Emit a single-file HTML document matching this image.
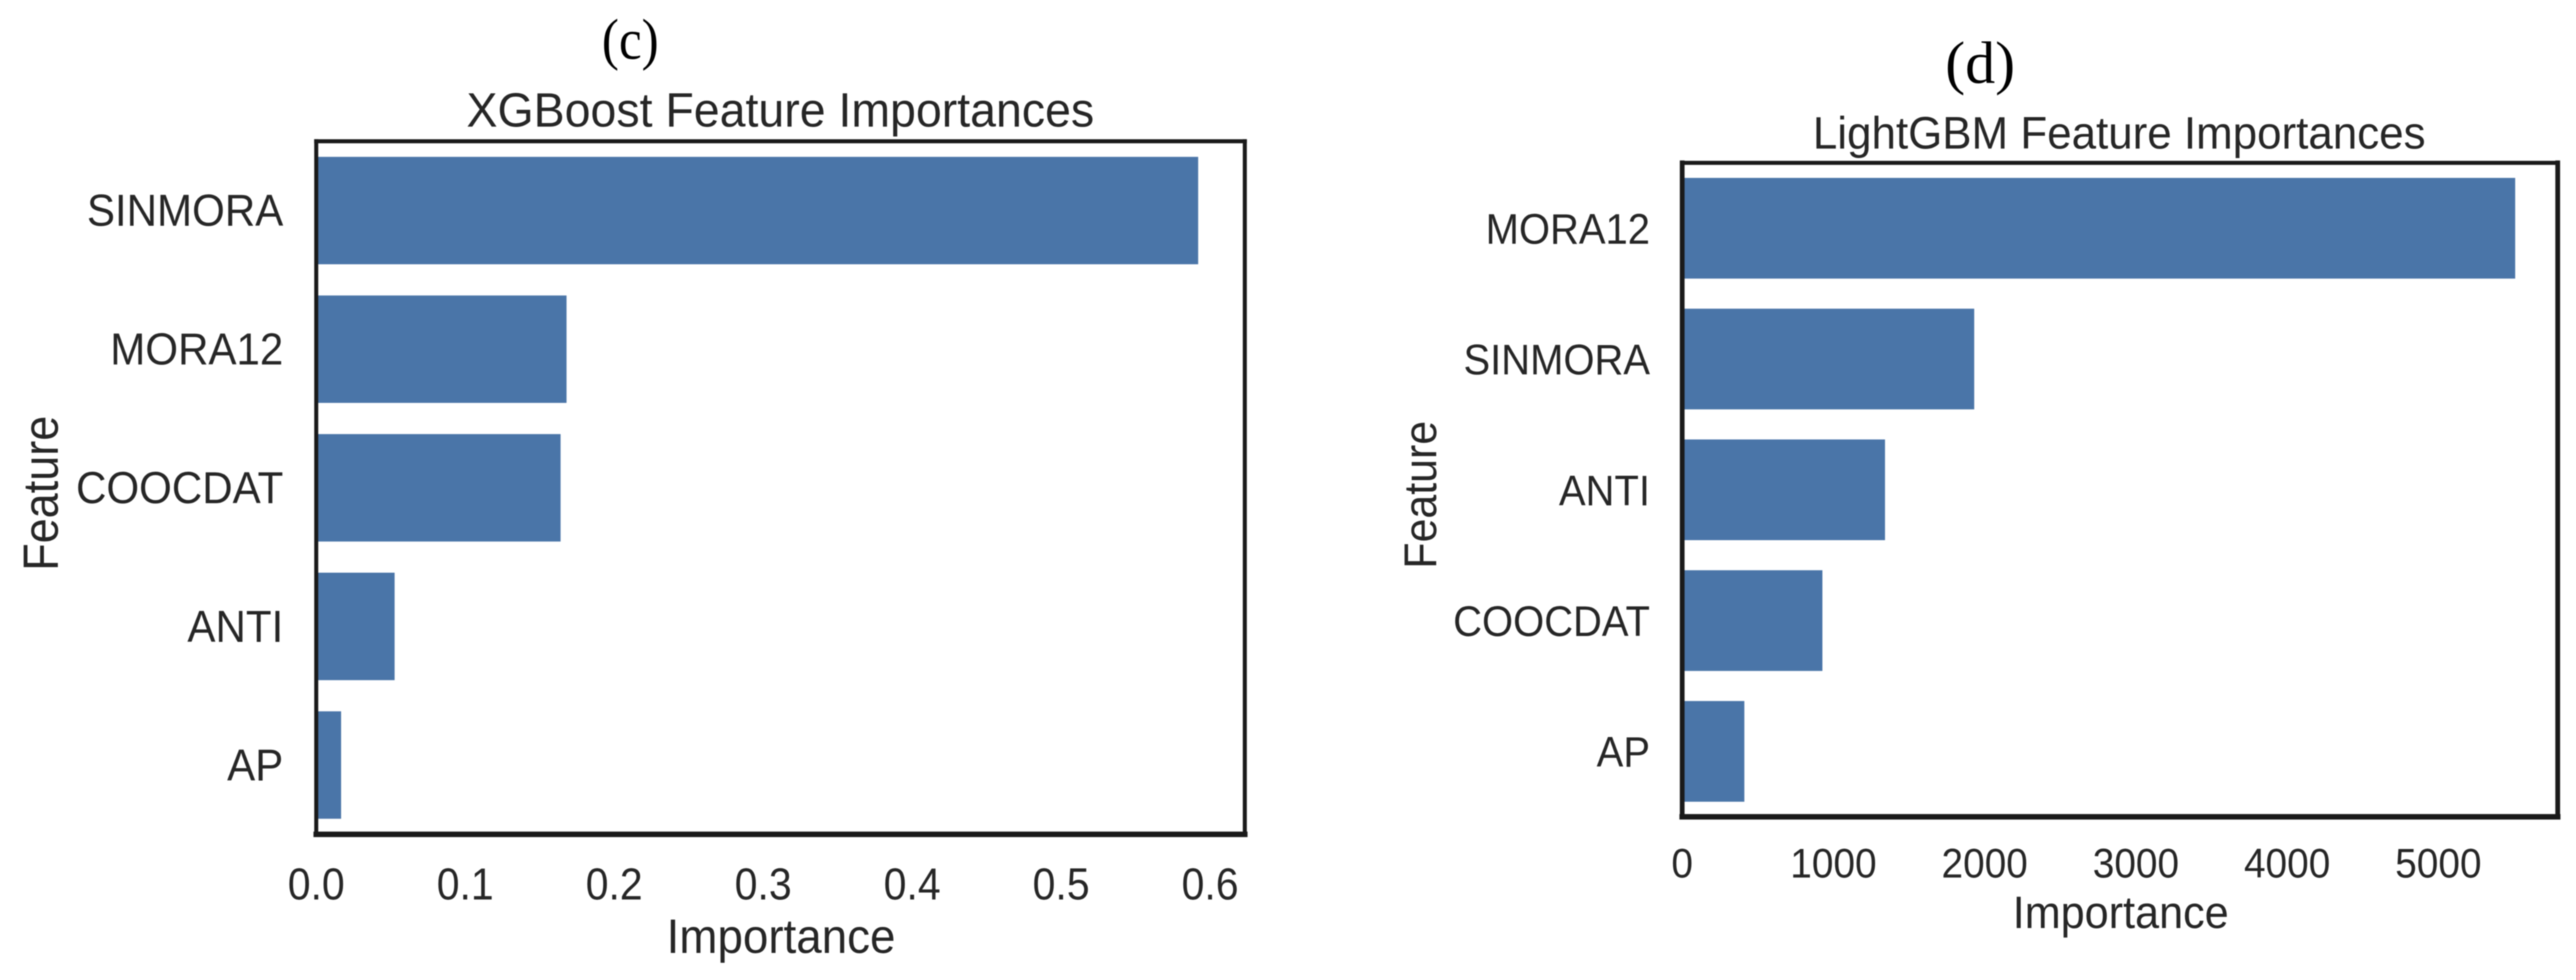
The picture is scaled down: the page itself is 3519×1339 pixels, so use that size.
<!DOCTYPE html>
<html lang="en">
<head>
<meta charset="utf-8">
<title>XGBoost and LightGBM Feature Importances</title>
<style>
  html, body { margin: 0; padding: 0; background: #ffffff; }
  #figure { display: block; width: 3519px; height: 1339px; filter: blur(0.9px); }
  text { font-family: "Liberation Sans", Arial, sans-serif; fill: #262626; }
  text.serif { font-family: "Liberation Serif", "Times New Roman", serif; fill: #000000; }
</style>
</head>
<body>
<svg id="figure" xmlns="http://www.w3.org/2000/svg" width="3519" height="1339" viewBox="0 0 3519 1339">
  <rect x="0" y="0" width="3519" height="1339" fill="#ffffff"></rect>
  <g id="panel-c"></g>
  <g id="panel-d"></g>
</svg>
<script>
// XGBoost data
const xgbCategories = ["SINMORA", "MORA12", "COOCDAT", "ANTI", "AP"];
const xgbValues = [0.592, 0.168, 0.164, 0.0526, 0.0167];
const xgbTicks = [0, 0.1, 0.2, 0.3, 0.4, 0.5, 0.6];
const xgbTickLabels = ["0.0", "0.1", "0.2", "0.3", "0.4", "0.5", "0.6"];

// LightGBM data
const lgbCategories = ["MORA12", "SINMORA", "ANTI", "COOCDAT", "AP"];
const lgbValues = [5508, 1931, 1341, 927, 411];
const lgbTicks = [0, 1000, 2000, 3000, 4000, 5000];
const lgbTickLabels = ["0", "1000", "2000", "3000", "4000", "5000"];

const SVG_NS = "http://www.w3.org/2000/svg";

function addText(parent, name, str, x, y, size, anchor, sx, sy, rotate, cls) {
  const t = document.createElementNS(SVG_NS, "text");
  
  
  t.textContent = str;
  t.setAttribute("font-size", size);
  t.setAttribute("text-anchor", anchor);
  t.setAttribute("transform", "translate(" + x + " " + y + ")" + (rotate ? " rotate(" + rotate + ")" : "") + " scale(" + sx + " " + sy + ")");
  if (cls) t.setAttribute("class", cls);
  parent.appendChild(t);
}

function addFrameSide(parent, name, x1, y1, x2, y2, width) {
  const line = document.createElementNS(SVG_NS, "line");
  
  
  line.setAttribute("x1", x1);
  line.setAttribute("y1", y1);
  line.setAttribute("x2", x2);
  line.setAttribute("y2", y2);
  line.setAttribute("stroke", "#1a1a1a");
  line.setAttribute("stroke-width", width);
  line.setAttribute("stroke-linecap", "square");
  parent.appendChild(line);
}

function drawPanel(group, categories, values, ticks, tickLabels, o) {
  const xScale = v => o.left + (v - 0) / (o.domainMax - 0) * (o.right - o.left);
  const step = (o.bottom - o.top) / categories.length;
  const yScale = i => o.top + step * (i + 0.5);

  categories.forEach(function (cat, i) {
    const h = step * o.barRatio;
    const bar = document.createElementNS(SVG_NS, "rect");
    
    
    bar.setAttribute("x", xScale(0));
    bar.setAttribute("y", yScale(i) - h / 2);
    bar.setAttribute("width", xScale(values[i]) - xScale(0));
    bar.setAttribute("height", h);
    bar.setAttribute("fill", "#4a75a8");
    group.appendChild(bar);

    addText(group, 'y-tick-label-' + cat.toLowerCase(), cat, o.yLabelX, yScale(i) + o.yLabelDy, o.yLabelSize, "end", 1, 1.07, 0);
  });

  ticks.forEach(function (tick, i) {
    addText(group, 'x-tick-label-' + tickLabels[i], tickLabels[i], xScale(tick), o.xLabelY, o.xLabelSize, "middle", 1, o.xLabelSy, 0);
  });

  addFrameSide(group, 'frame-left', o.left, o.top, o.left, o.bottom, o.sideWidth);
  addFrameSide(group, 'frame-right', o.right, o.top, o.right, o.bottom, o.sideWidth);
  addFrameSide(group, 'frame-top', o.left, o.top, o.right, o.top, 5.5);
  addFrameSide(group, 'frame-bottom', o.left, o.bottom, o.right, o.bottom, 7.5);

  addText(group, 'chart-title', o.title, o.titleX, o.titleY, o.titleSize, "middle", 1, 1.04, 0);
  addText(group, 'x-axis-title', "Importance", o.xTitleX, o.xTitleY, o.xTitleSize, "middle", 1, 1.05, 0);
  addText(group, 'y-axis-title', "Feature", o.yTitleX, o.yTitleY, o.yTitleSize, "middle", 1, o.yTitleStretch, -90);
  addText(group, 'panel-label', o.panel, o.panelX, o.panelY, o.panelSize, "middle", o.panelSx, o.panelSy, 0, "serif");
}

drawPanel(document.getElementById("panel-c"), xgbCategories, xgbValues, xgbTicks, xgbTickLabels, {
  left: 432, right: 1700.5, top: 193, bottom: 1140, domainMax: 0.6233, barRatio: 0.775, sideWidth: 5.5,
  yLabelX: 387, yLabelDy: 21, yLabelSize: 57.5,
  xLabelY: 1229, xLabelSize: 56, xLabelSy: 1.09,
  title: "XGBoost Feature Importances", titleX: 1066, titleY: 173, titleSize: 63.5,
  xTitleX: 1067, xTitleY: 1302, xTitleSize: 62.5,
  yTitleX: 79, yTitleY: 674, yTitleSize: 61.5, yTitleStretch: 1.1,
  panel: "(c)", panelX: 861, panelY: 80, panelSize: 70, panelSx: 1, panelSy: 1.12
});

drawPanel(document.getElementById("panel-d"), lgbCategories, lgbValues, lgbTicks, lgbTickLabels, {
  left: 2298, right: 3494, top: 222.5, bottom: 1116, domainMax: 5789, barRatio: 0.77, sideWidth: 6.5,
  yLabelX: 2254, yLabelDy: 21, yLabelSize: 54.6,
  xLabelY: 1199, xLabelSize: 53, xLabelSy: 1.07,
  title: "LightGBM Feature Importances", titleX: 2895, titleY: 203, titleSize: 60,
  xTitleX: 2897, xTitleY: 1268, xTitleSize: 59,
  yTitleX: 1962, yTitleY: 676, yTitleSize: 58.6, yTitleStretch: 1.08,
  panel: "(d)", panelX: 2705, panelY: 113, panelSize: 82, panelSx: 1, panelSy: 1
});
</script>
</body>
</html>
